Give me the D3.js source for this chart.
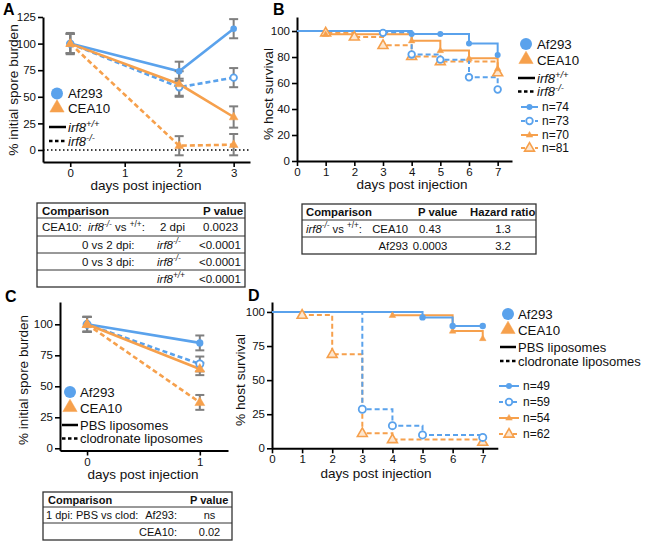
<!DOCTYPE html>
<html><head><meta charset="utf-8">
<script src="https://cdn.jsdelivr.net/npm/d3@7"></script>
<style>
body{margin:0;background:#fff}
svg{font-family:"Liberation Sans",Arial,Helvetica,sans-serif}
</style>
</head><body>
<svg id="c" width="650" height="545"></svg>
<script>
// ---------- DATA ----------
// Panel A: spore burden, irf8 wt vs ko
const daysA = [0, 2, 3];
const ticksAx = [0, 1, 2, 3];
const ticksAy = [0, 25, 50, 75, 100, 125];
const aAf293Wt = [100, 74, 114];
const aAf293WtErr = [10, 9, 9];
const aAf293Ko = [100, 59, 68];
const aAf293KoErr = [9, 8, 9];
const aCea10Wt = [100, 62, 31];
const aCea10WtErr = [9, 12, 10];
const aCea10Ko = [100, 4, 5];
const aCea10KoErr = [9, 9, 10];

// Panel B: survival, irf8 wt vs ko
const daysB = [0, 1, 2, 3, 4, 5, 6, 7];
const ticksBy = [0, 20, 40, 60, 80, 100];
const bAf293Wt = [100, 100, 100, 100, 97.7, 97.7, 90.5, 81.5];
const bAf293WtMarks = [4, 5, 6, 7];
const bAf293Ko = [100, 100, 100, 98.6, 82, 78, 64.4, 55];
const bAf293KoMarks = [3, 4, 5, 6, 7];
const bCea10Wt = [100, 97.5, 97.5, 97.5, 92.5, 85, 79, 71];
const bCea10WtMarks = [1, 4, 5, 6, 7];
const bCea10Ko = [100, 98.7, 95.5, 89, 80.5, 76.5, 76.5, 68];
const bCea10KoMarks = [1, 2, 3, 4, 5, 7];
const nLabelsB = ["n=74", "n=73", "n=70", "n=81"];

// Panel C: spore burden, liposomes
const daysC = [0, 1];
const ticksCx = [0, 1];
const ticksCy = [0, 25, 50, 75, 100];
const cAf293Pbs = [100, 85];
const cAf293PbsErr = [6, 6];
const cAf293Clod = [100, 68];
const cAf293ClodErr = [6, 6];
const cCea10Pbs = [100, 64];
const cCea10PbsErr = [6, 5];
const cCea10Clod = [100, 37];
const cCea10ClodErr = [6, 6];

// Panel D: survival, liposomes
const daysD = [0, 1, 2, 3, 4, 5, 6, 7];
const ticksDy = [0, 25, 50, 75, 100];
const dAf293Pbs = [100, 100, 100, 100, 100, 96, 89.7, 89.7];
const dAf293PbsMarks = [5, 6, 7];
const dAf293Clod = [100, 100, 100, 28.6, 16.6, 9.8, 9.8, 8];
const dAf293ClodMarks = [3, 4, 5, 7];
const dCea10Pbs = [100, 100, 100, 100, 97.5, 97.5, 86, 80.5];
const dCea10PbsMarks = [4, 6, 7];
const dCea10Clod = [100, 97.7, 69, 11, 6.5, 6.5, 6.5, 4.5];
const dCea10ClodMarks = [1, 2, 3, 4, 7];
const nLabelsD = ["n=49", "n=59", "n=54", "n=62"];

// Tables ( _ = italic toggle, ^ = superscript toggle )
const tableAHeader = ["Comparison", "P value"];
const tableARows = [
  ["CEA10:", "_irf8^-/-^_ vs ^+/+^:", "2 dpi", "0.0023"],
  ["", "0 vs 2 dpi:", "_irf8^-/-^_", "<0.0001"],
  ["", "0 vs 3 dpi:", "_irf8^-/-^_", "<0.0001"],
  ["", "", "_irf8^+/+^_", "<0.0001"]
];
const tableBHeader = ["Comparison", "P value", "Hazard ratio"];
const tableBRows = [
  ["_irf8^-/-^_ vs ^+/+^:", "CEA10", "0.43", "1.3"],
  ["", "Af293", "0.0003", "3.2"]
];
const tableCHeader = ["Comparison", "P value"];
const tableCRows = [
  ["1 dpi: PBS vs clod:", "Af293:", "ns"],
  ["", "CEA10:", "0.02"]
];

// ---------- STYLE ----------
const BLUE = "#5aa2ec", ORANGE = "#f6a04c", GREY = "#7f7f7f";
const svg = d3.select("#c");
svg.append("rect").attr("width", 650).attr("height", 545).attr("fill", "#fff");

// ---------- HELPERS ----------
function rich(g, x, y, str, size, opts = {}) {
  const t = g.append("text").attr("x", x).attr("y", y)
    .attr("font-size", size).attr("fill", "#111")
    .attr("text-anchor", opts.anchor || "start")
    .attr("font-weight", opts.bold ? "bold" : "normal");
  if (opts.transform) t.attr("transform", opts.transform);
  let it = false, sup = false, buf = "", segs = [];
  for (const ch of str) {
    if (ch === "_" || ch === "^") {
      if (buf) segs.push({ t: buf, it, sup });
      buf = "";
      if (ch === "_") it = !it; else sup = !sup;
    } else buf += ch;
  }
  if (buf) segs.push({ t: buf, it, sup });
  let prevSup = false;
  const shift = size * 0.38;
  segs.forEach(s => {
    const ts = t.append("tspan").text(s.t)
      .attr("font-style", s.it ? "italic" : "normal")
      .attr("font-size", s.sup ? size * 0.72 : size);
    if (s.sup && !prevSup) ts.attr("dy", -shift);
    if (!s.sup && prevSup) ts.attr("dy", shift);
    prevSup = s.sup;
  });
  return t;
}

function marker(g, type, cx, cy, size, filled, color) {
  if (type === "circle") {
    g.append("circle").attr("cx", cx).attr("cy", cy).attr("r", size)
      .attr("fill", filled ? color : "#fff").attr("stroke", color)
      .attr("stroke-width", filled ? 0 : 1.8);
  } else {
    const s = size;
    const pts = [[cx, cy - s * 0.6], [cx - s * 0.55, cy + s * 0.35], [cx + s * 0.55, cy + s * 0.35]];
    g.append("path").attr("d", "M" + pts.join("L") + "Z")
      .attr("fill", filled ? color : "#fde6cf").attr("stroke", color)
      .attr("stroke-width", filled ? 0.5 : 1.6).attr("stroke-linejoin", "miter");
  }
}

function axes(g, x, y, xTicks, yTicks, xAxisY, yAxisX) {
  const ax = g.append("g").attr("transform", `translate(0,${xAxisY})`)
    .call(d3.axisBottom(x).tickValues(xTicks).tickFormat(d3.format("d"))
      .tickSize(5).tickSizeOuter(0).tickPadding(2));
  const ay = g.append("g").attr("transform", `translate(${yAxisX},0)`)
    .call(d3.axisLeft(y).tickValues(yTicks).tickFormat(d3.format("d"))
      .tickSize(5).tickSizeOuter(0).tickPadding(2));
  [ax, ay].forEach(a => {
    a.select(".domain").attr("stroke", "#000").attr("stroke-width", 2);
    a.selectAll(".tick line").attr("stroke", "#000").attr("stroke-width", 1.6);
    a.selectAll(".tick text").attr("font-size", 11.5).attr("fill", "#111")
      .attr("font-family", '"Liberation Sans",Arial,sans-serif');
  });
}

function errBars(g, x, y, days, vals, errs) {
  days.forEach((d, i) => {
    const cx = x(d), y1 = y(vals[i] - errs[i]), y2 = y(vals[i] + errs[i]);
    g.append("line").attr("x1", cx).attr("x2", cx).attr("y1", y1).attr("y2", y2)
      .attr("stroke", GREY).attr("stroke-width", 2);
    [y1, y2].forEach(yy => g.append("line").attr("x1", cx - 4.5).attr("x2", cx + 4.5)
      .attr("y1", yy).attr("y2", yy).attr("stroke", GREY).attr("stroke-width", 2));
  });
}

function seriesLine(g, x, y, days, vals, color, dashed, step, width) {
  const line = d3.line().x(d => x(d[0])).y(d => y(d[1]));
  if (step) line.curve(d3.curveStepAfter);
  g.append("path").datum(days.map((d, i) => [d, vals[i]])).attr("d", line)
    .attr("fill", "none").attr("stroke", color).attr("stroke-width", width)
    .attr("stroke-dasharray", dashed ? "5,3" : null);
}

function table(g, x0, x1, ys, cells, fs) {
  g.append("rect").attr("x", x0).attr("y", ys[0]).attr("width", x1 - x0)
    .attr("height", ys[ys.length - 1] - ys[0]).attr("fill", "none")
    .attr("stroke", "#333").attr("stroke-width", 1.3);
  ys.slice(1, -1).forEach(yy => g.append("line").attr("x1", x0).attr("x2", x1)
    .attr("y1", yy).attr("y2", yy).attr("stroke", "#333").attr("stroke-width", 1));
  cells.forEach(c => { if (c.s) rich(g, c.x, c.y, c.s, fs, { anchor: c.a, bold: c.b }); });
}

function legendMain(g, x, yC, yT, y3, y4, lab3, lab4, textX) {
  marker(g, "circle", x, yC, 6, true, BLUE);
  rich(g, textX, yC + 4.5, "Af293", 13.3);
  marker(g, "triangle", x, yT, 13, true, ORANGE);
  rich(g, textX, yT + 5.5, "CEA10", 13.3);
  g.append("line").attr("x1", x - 8).attr("x2", textX - 2).attr("y1", y3).attr("y2", y3)
    .attr("stroke", "#000").attr("stroke-width", 2.5);
  rich(g, textX, y3 + 4.5, lab3, 13);
  g.append("line").attr("x1", x - 8).attr("x2", textX - 2).attr("y1", y4).attr("y2", y4)
    .attr("stroke", "#000").attr("stroke-width", 2.5).attr("stroke-dasharray", "3.5,2.5");
  rich(g, textX, y4 + 4.5, lab4, 13);
}

function legendN(g, x1, x2, ys, labels, textX) {
  const specs = [[BLUE, false, "circle", true, 3], [BLUE, true, "circle", false, 3.3],
                 [ORANGE, false, "triangle", true, 6], [ORANGE, true, "triangle", false, 9]];
  specs.forEach((s, i) => {
    g.append("line").attr("x1", x1).attr("x2", x2).attr("y1", ys[i]).attr("y2", ys[i])
      .attr("stroke", s[0]).attr("stroke-width", 2).attr("stroke-dasharray", s[1] ? "4,3" : null);
    marker(g, s[2], (x1 + x2) / 2, ys[i], s[4], s[3], s[0]);
    rich(g, textX, ys[i] + 4, labels[i], 12);
  });
}

function panelLetter(x, y, t) {
  svg.append("text").attr("x", x).attr("y", y).attr("font-size", 16)
    .attr("font-weight", "bold").attr("fill", "#000").text(t);
}

// ---------- PANEL A ----------
{
  const g = svg.append("g");
  const x = d3.scaleLinear().domain([-0.5, 3.3]).range([43, 250]);
  const y = d3.scaleLinear().domain([-11.3, 125]).range([162, 17]);
  g.append("line").attr("x1", 43).attr("x2", 250).attr("y1", y(0)).attr("y2", y(0))
    .attr("stroke", "#000").attr("stroke-width", 1.5).attr("stroke-dasharray", "1.5,2.5");
  axes(g, x, y, ticksAx, ticksAy, 162, 43);
  const S = [
    [aAf293Wt, aAf293WtErr, BLUE, false, "circle", true],
    [aAf293Ko, aAf293KoErr, BLUE, true, "circle", false],
    [aCea10Wt, aCea10WtErr, ORANGE, false, "triangle", true],
    [aCea10Ko, aCea10KoErr, ORANGE, true, "triangle", true]
  ];
  S.forEach(s => seriesLine(g, x, y, daysA, s[0], s[2], s[3], false, 2.6));
  S.forEach(s => errBars(g, x, y, daysA, s[0], s[1]));
  S.forEach(s => daysA.forEach((d, i) => marker(g, s[4], x(d), y(s[0][i]), s[4] === "circle" ? 3.3 : 8, s[5], s[2])));
  rich(g, 146, 190, "days post injection", 13.5, { anchor: "middle" });
  rich(g, 0, 0, "% initial spore burden", 13.7, { anchor: "middle", transform: "translate(18,90) rotate(-90)" });
  legendMain(g, 57, 93.5, 107.5, 127, 141, "_irf8^+/+^_", "_irf8^-/-^_", 68);
  const ys = [203, 218, 236, 253, 270, 287];
  const cells = [
    { x: 42, y: 214.5, s: tableAHeader[0], b: true }, { x: 203, y: 214.5, s: tableAHeader[1], b: true }
  ];
  const colX = [42, 88, 160, 203];
  const colX2 = [42, 82, 157, 199];
  tableARows.forEach((r, i) => {
    const cx = i === 0 ? colX : colX2;
    const by = (ys[i + 1] + ys[i + 2]) / 2 + 4;
    r.forEach((c, j) => cells.push({ x: cx[j], y: by, s: c }));
  });
  table(g, 37, 245, ys, cells, 11.5);
}

// ---------- PANEL B ----------
{
  const g = svg.append("g");
  const x = d3.scaleLinear().domain([0, 7.5]).range([297, 512]);
  const y = d3.scaleLinear().domain([0, 110.8]).range([161, 17]);
  axes(g, x, y, daysB, ticksBy, 161, 297);
  const S = [
    [bCea10Ko, bCea10KoMarks, ORANGE, true, "triangle", false, 9],
    [bAf293Ko, bAf293KoMarks, BLUE, true, "circle", false, 3.3],
    [bCea10Wt, bCea10WtMarks, ORANGE, false, "triangle", true, 6],
    [bAf293Wt, bAf293WtMarks, BLUE, false, "circle", true, 3]
  ];
  S.forEach(s => seriesLine(g, x, y, daysB, s[0], s[2], s[3], true, 2));
  S.forEach(s => s[1].forEach(d => marker(g, s[4], x(d), y(s[0][d]), s[6], s[5], s[2])));
  rich(g, 412, 189, "days post injection", 13.5, { anchor: "middle" });
  rich(g, 0, 0, "% host survival", 13.7, { anchor: "middle", transform: "translate(273,94) rotate(-90)" });
  legendMain(g, 526, 44, 59, 78, 91.5, "_irf8^+/+^_", "_irf8^-/-^_", 537);
  legendN(g, 521, 538, [107, 121, 135, 148], nLabelsB, 542);
  const ys = [204, 220, 237, 254];
  const cells = [
    { x: 306, y: 216, s: tableBHeader[0], b: true },
    { x: 418, y: 216, s: tableBHeader[1], b: true },
    { x: 470, y: 216, s: tableBHeader[2], b: true }
  ];
  tableBRows.forEach((r, i) => {
    const by = (ys[i + 1] + ys[i + 2]) / 2 + 4;
    cells.push({ x: 306, y: by, s: r[0] });
    cells.push({ x: 408, y: by, s: r[1], a: "end" });
    cells.push({ x: 430, y: by, s: r[2], a: "middle" });
    cells.push({ x: 503, y: by, s: r[3], a: "middle" });
  });
  table(g, 302, 536, ys, cells, 11.3);
}

// ---------- PANEL C ----------
{
  const g = svg.append("g");
  const x = d3.scaleLinear().domain([-0.24, 1.25]).range([60, 228]);
  const y = d3.scaleLinear().domain([-1.8, 118]).range([450.5, 302]);
  axes(g, x, y, ticksCx, ticksCy, 450.5, 60);
  const S = [
    [cAf293Pbs, cAf293PbsErr, BLUE, false, "circle", true],
    [cAf293Clod, cAf293ClodErr, BLUE, true, "circle", false],
    [cCea10Pbs, cCea10PbsErr, ORANGE, false, "triangle", true],
    [cCea10Clod, cCea10ClodErr, ORANGE, true, "triangle", true]
  ];
  S.forEach(s => seriesLine(g, x, y, daysC, s[0], s[2], s[3], false, 2.6));
  S.forEach(s => errBars(g, x, y, daysC, s[0], s[1]));
  S.forEach(s => daysC.forEach((d, i) => marker(g, s[4], x(d), y(s[0][i]), s[4] === "circle" ? 3.6 : 9, s[5], s[2])));
  rich(g, 143, 479, "days post injection", 13.5, { anchor: "middle" });
  rich(g, 0, 0, "% initial spore burden", 13.5, { anchor: "middle", transform: "translate(28,380) rotate(-90)" });
  legendMain(g, 70, 392, 407, 425, 438.5, "PBS liposomes", "clodronate liposomes", 80);
  const ys = [492, 507, 523, 540];
  const cells = [
    { x: 48, y: 503.5, s: tableCHeader[0], b: true },
    { x: 190, y: 503.5, s: tableCHeader[1], b: true }
  ];
  tableCRows.forEach((r, i) => {
    const by = (ys[i + 1] + ys[i + 2]) / 2 + 4;
    cells.push({ x: 46, y: by, s: r[0] });
    cells.push({ x: 177, y: by, s: r[1], a: "end" });
    cells.push({ x: 209.5, y: by, s: r[2], a: "middle" });
  });
  table(g, 43, 232, ys, cells, 11);
}

// ---------- PANEL D ----------
{
  const g = svg.append("g");
  const x = d3.scaleLinear().domain([0, 7.5]).range([272, 497.8]);
  const y = d3.scaleLinear().domain([0, 107.3]).range([448.3, 302]);
  axes(g, x, y, daysD, ticksDy, 448.3, 272);
  const S = [
    [dCea10Clod, dCea10ClodMarks, ORANGE, true, "triangle", false, 9],
    [dAf293Clod, dAf293ClodMarks, BLUE, true, "circle", false, 3.6],
    [dCea10Pbs, dCea10PbsMarks, ORANGE, false, "triangle", true, 6],
    [dAf293Pbs, dAf293PbsMarks, BLUE, false, "circle", true, 3.2]
  ];
  S.forEach(s => seriesLine(g, x, y, daysD, s[0], s[2], s[3], true, 2));
  S.forEach(s => s[1].forEach(d => marker(g, s[4], x(d), y(s[0][d]), s[6], s[5], s[2])));
  rich(g, 376, 478, "days post injection", 13.5, { anchor: "middle" });
  rich(g, 0, 0, "% host survival", 13.7, { anchor: "middle", transform: "translate(245,380) rotate(-90)" });
  legendMain(g, 508, 314, 329, 347, 361, "PBS liposomes", "clodronate liposomes", 518);
  legendN(g, 499, 519, [386, 402, 418, 434], nLabelsD, 523);
}

panelLetter(3, 15, "A");
panelLetter(273, 15, "B");
panelLetter(5, 302, "C");
panelLetter(248, 301, "D");
</script>
</body></html>
